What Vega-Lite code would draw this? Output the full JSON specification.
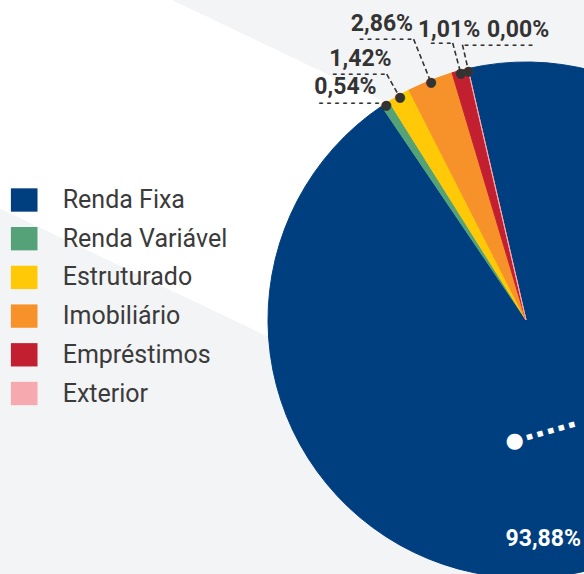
{
  "$schema": "https://vega.github.io/schema/vega-lite/v6.json",
  "width": 1052,
  "height": 640,
  "autosize": {"type": "none"},
  "padding": {"left": 0, "top": 0, "right": -468, "bottom": -66},
  "background": "#f3f4f6",
  "config": {
    "view": {"stroke": null},
    "locale": {"number": {"decimal": ",", "thousands": ".", "grouping": [3], "currency": ["R$", ""]}}
  },
  "layer": [
    {
      "data": {"values": [{}]},
      "mark": {
        "type": "rect",
        "fill": {
          "gradient": "linear",
          "x1": 1, "y1": 0, "x2": 0.1325, "y2": 1.1041,
          "stops": [
            {"offset": 0, "color": "#f3f4f6"},
            {"offset": 0.368, "color": "#f3f4f6"},
            {"offset": 0.368, "color": "#ffffff"},
            {"offset": 0.6225, "color": "#ffffff"},
            {"offset": 0.6225, "color": "#f3f4f6"},
            {"offset": 1, "color": "#f3f4f6"}
          ]
        }
      },
      "encoding": {
        "x": {"value": 0}, "x2": {"value": "width"},
        "y": {"value": 0}, "y2": {"value": "height"}
      }
    },
    {
      "data": {"values": [
        {"category": "Renda Fixa", "share": 0.9388},
        {"category": "Renda Variável", "share": 0.0054},
        {"category": "Estruturado", "share": 0.0142},
        {"category": "Imobiliário", "share": 0.0286},
        {"category": "Empréstimos", "share": 0.0101},
        {"category": "Exterior", "share": 0.0}
      ]},
      "transform": [{"window": [{"op": "row_number", "as": "idx"}]}],
      "encoding": {
        "theta": {"field": "share", "type": "quantitative", "stack": true, "scale": {"range": [-0.226893, 6.056292]}},
        "order": {"field": "idx", "type": "quantitative"},
        "detail": {"field": "category"}
      },
      "layer": [
        {
          "mark": {"type": "arc", "outerRadius": 258, "strokeWidth": 1},
          "encoding": {
            "color": {
              "field": "category", "type": "nominal",
              "scale": {
                "domain": ["Renda Fixa", "Renda Variável", "Estruturado", "Imobiliário", "Empréstimos", "Exterior"],
                "range": ["#003f7f", "#56a278", "#ffc907", "#f7922a", "#c21f30", "#f6a9ae"]
              },
              "legend": {
                "orient": "none", "legendX": 11.7, "legendY": 187.5, "title": null,
                "symbolType": "M-1.14,-1H1.14V1H-1.14Z", "symbolSize": 545, "symbolStrokeWidth": 0,
                "symbolOpacity": 1,
                "labelFont": "Roboto", "labelFontSize": 25, "labelColor": "#3b3b3b",
                "labelOffset": 26, "rowPadding": 12.7, "padding": 0, "labelLimit": 400
              }
            },
            "stroke": {
              "field": "category", "type": "nominal",
              "scale": {
                "domain": ["Renda Fixa", "Renda Variável", "Estruturado", "Imobiliário", "Empréstimos", "Exterior"],
                "range": ["#003f7f", "#56a278", "#ffc907", "#f7922a", "#c21f30", "#f6a9ae"]
              },
              "legend": null
            }
          }
        },
        {
          "mark": {
            "type": "arc", "filled": false, "stroke": "#333333", "strokeWidth": 1.6, "strokeDash": [5, 3],
            "innerRadius": 256,
            "outerRadius": {"expr": "[256, 256, 282.5, 302.5, 286.5, 282.5][datum.idx - 1]"},
            "padAngle": 1.2,
            "strokeOpacity": {"expr": "datum.idx <= 2 ? 0 : 1"}
          }
        },
        {
          "mark": {
            "type": "text", "text": "●", "font": "DejaVu Sans", "fontSize": 13, "fill": "#333333",
            "radius": 256, "align": "center", "baseline": "middle",
            "opacity": {"expr": "datum.idx == 1 ? 0 : 1"}
          }
        },
        {
          "mark": {
            "type": "text", "font": "Liberation Mono", "fontWeight": "bold", "fontSize": 13.33, "fill": "#333333",
            "radius": 256, "baseline": "middle",
            "align": {"expr": "datum.idx == 6 ? 'left' : 'right'"},
            "text": {"expr": "['', '--------', '-------', '-------', '---', '---------'][datum.idx - 1]"},
            "dx": {"expr": "[0, -5.3, -13.1, -17.3, -7.8, -6.0][datum.idx - 1]"},
            "dy": {"expr": "[0, -2.8, -23.1, -43.1, -29.5, -25.9][datum.idx - 1]"}
          }
        },
        {
          "mark": {
            "type": "text", "font": "Roboto", "fontWeight": "bold", "fontSize": 23,
            "radius": 256, "align": "center", "baseline": "alphabetic",
            "dx": {"expr": "[-84.9, -40.8, -39.3, -48.9, -11.5, 49.6][datum.idx - 1]"},
            "dy": {"expr": "[-9.0, -11.2, -31.3, -51.3, -35.2, -33.3][datum.idx - 1]"},
            "fill": {"expr": "datum.idx == 1 ? '#ffffff' : '#333333'"}
          },
          "encoding": {"text": {"field": "share", "type": "quantitative", "format": ".2%"}}
        },
        {
          "mark": {
            "type": "text", "text": "●", "font": "DejaVu Sans", "fontSize": 21, "fill": "#ffffff",
            "radius": 0, "align": "center", "baseline": "middle", "dx": -11.3, "dy": 121,
            "opacity": {"expr": "datum.idx == 1 ? 1 : 0"}
          }
        },
        {
          "mark": {
            "type": "text", "text": "▪ ▪ ▪ ▪ ▪", "font": "DejaVu Sans", "fontSize": 11, "fill": "#ffffff",
            "radius": 0, "angle": -16, "align": "left", "baseline": "middle", "dx": -32.5, "dy": 113.4,
            "opacity": {"expr": "datum.idx == 1 ? 1 : 0"}
          }
        }
      ]
    }
  ]
}
